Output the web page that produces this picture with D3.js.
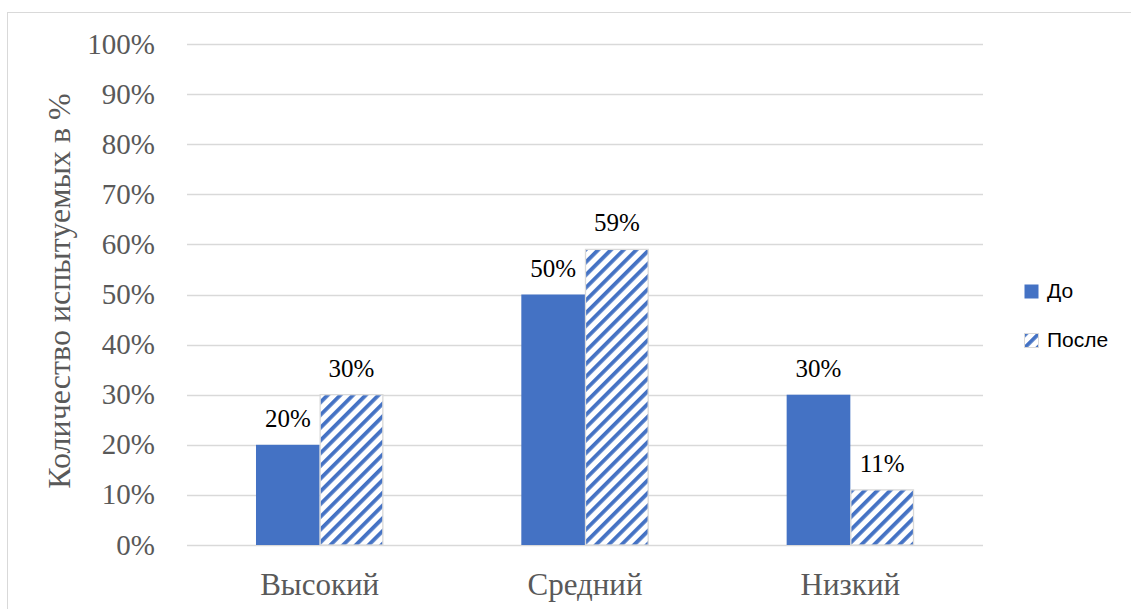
<!DOCTYPE html>
<html>
<head>
<meta charset="utf-8">
<script src="https://cdn.jsdelivr.net/npm/d3@7/dist/d3.min.js"></script>
<style>
  body { margin: 0; background: #fff; }
  svg { display: block; }
  .serif { font-family: "Liberation Serif", "Times New Roman", Times, serif; }
  .sans { font-family: "Liberation Sans", Arial, sans-serif; }
</style>
</head>
<body>
<script>
var w = 1131,
    h = 609;

// data
var categories = ["Высокий", "Средний", "Низкий"];
var seriesNames = ["До", "После"];
var before = [20, 50, 30];
var after = [30, 59, 11];
var yTicks = [0, 10, 20, 30, 40, 50, 60, 70, 80, 90, 100];

var margin = { top: 44, right: 148, bottom: 64, left: 187 };
var width = w - margin.left - margin.right,
    height = h - margin.top - margin.bottom;

var blue = "#4472C4",
    grid = "#D9D9D9",
    gray = "#595959";

var svg = d3.select("body").append("svg")
    .attr("width", w)
    .attr("height", h);

// hatch pattern
var defs = svg.append("defs");
var pat = defs.append("pattern")
    .attr("id", "hatch")
    .attr("patternUnits", "userSpaceOnUse")
    .attr("width", 9)
    .attr("height", 9)
    .attr("patternTransform", "rotate(45)");
pat.append("rect").attr("width", 9).attr("height", 9).attr("fill", "#fff");
pat.append("rect").attr("width", 3.8).attr("height", 9).attr("fill", blue);

// outer border
svg.append("rect")
    .attr("x", 7.5)
    .attr("y", 12.5)
    .attr("width", w)
    .attr("height", h)
    .attr("fill", "none")
    .attr("stroke", grid);

var chart = svg.append("g")
    .attr("transform", "translate(" + margin.left + "," + margin.top + ")");

var x0 = d3.scaleBand()
    .domain(categories)
    .range([0, width])
    .paddingInner(0.52)
    .paddingOuter(0.26);

var x1 = d3.scaleBand()
    .domain(seriesNames)
    .range([0, x0.bandwidth()]);

var y = d3.scaleLinear()
    .domain([0, 100])
    .range([height, 0]);

// gridlines
chart.append("g")
    .attr("class", "grid")
    .selectAll("line")
    .data(yTicks)
    .enter().append("line")
    .attr("x1", 0)
    .attr("x2", width)
    .attr("y1", function(d) { return Math.round(y(d)) + 0.5; })
    .attr("y2", function(d) { return Math.round(y(d)) + 0.5; })
    .attr("stroke", grid)
    .attr("stroke-width", 1.3);

// y tick labels
chart.append("g")
    .selectAll("text")
    .data(yTicks)
    .enter().append("text")
    .attr("class", "serif")
    .attr("x", -32)
    .attr("y", function(d) { return y(d); })
    .attr("dy", "0.33em")
    .attr("text-anchor", "end")
    .attr("font-size", 29)
    .attr("fill", gray)
    .text(function(d) { return d + "%"; });

// y axis title
svg.append("text")
    .attr("class", "serif")
    .attr("transform", "translate(70,291) rotate(-90)")
    .attr("text-anchor", "middle")
    .attr("font-size", 32)
    .attr("fill", gray)
    .text("Количество испытуемых в %");

// category labels
chart.append("g")
    .selectAll("text")
    .data(categories)
    .enter().append("text")
    .attr("class", "serif")
    .attr("x", function(d) { return x0(d) + x0.bandwidth() / 2; })
    .attr("y", height + 50)
    .attr("text-anchor", "middle")
    .attr("font-size", 31)
    .attr("fill", gray)
    .text(function(d) { return d; });

var rows = categories.map(function(c, i) {
    return { cat: c, values: [{ s: "До", v: before[i] }, { s: "После", v: after[i] }] };
});

var groups = chart.selectAll(".group")
    .data(rows)
    .enter().append("g")
    .attr("class", "group")
    .attr("transform", function(d) { return "translate(" + x0(d.cat) + ",0)"; });

groups.selectAll("rect")
    .data(function(d) { return d.values; })
    .enter().append("rect")
    .attr("x", function(d) { return x1(d.s) + (d.s === "После" ? 0.5 : 0); })
    .attr("y", function(d) { return y(d.v); })
    .attr("width", function(d) { return x1.bandwidth() - (d.s === "После" ? 1 : 0); })
    .attr("height", function(d) { return height - y(d.v); })
    .attr("fill", function(d) { return d.s === "До" ? blue : "url(#hatch)"; })
    .attr("stroke", function(d) { return d.s === "До" ? "none" : grid; })
    .attr("stroke-width", 1.3);

groups.selectAll("text")
    .data(function(d) { return d.values; })
    .enter().append("text")
    .attr("class", "serif")
    .attr("x", function(d) { return x1(d.s) + x1.bandwidth() / 2; })
    .attr("y", function(d) { return y(d.v) - 18; })
    .attr("text-anchor", "middle")
    .attr("font-size", 25)
    .attr("fill", "#000")
    .text(function(d) { return d.v + "%"; });

// legend
var legend = svg.append("g")
    .selectAll("g")
    .data(seriesNames)
    .enter().append("g")
    .attr("transform", function(d, i) { return "translate(1024," + (284 + i * 49) + ")"; });

legend.append("rect")
    .attr("x", 0.5)
    .attr("y", 0.5)
    .attr("width", 14)
    .attr("height", 14)
    .attr("fill", function(d, i) { return i === 0 ? blue : "url(#hatch)"; })
    .attr("stroke", function(d, i) { return i === 0 ? "none" : grid; });

legend.append("text")
    .attr("class", "sans")
    .attr("x", 23)
    .attr("y", 14)
    .attr("font-size", 21)
    .attr("fill", "#000")
    .text(function(d) { return d; });
</script>
</body>
</html>
